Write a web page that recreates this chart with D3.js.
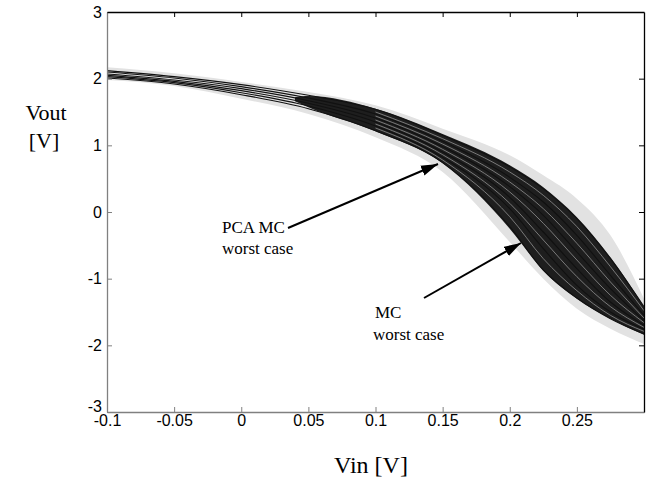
<!DOCTYPE html>
<html><head><meta charset="utf-8">
<script src="https://cdn.jsdelivr.net/npm/d3@7"></script>
<style>body{margin:0;background:#fff}</style>
</head><body><svg id="c" width="653" height="485"></svg>
<script>
// ---- data ----
const vin = [-0.1, -0.05, 0, 0.05, 0.1, 0.15, 0.2, 0.225, 0.25, 0.275, 0.3];
const envHi = [2.17, 2.08, 1.95, 1.80, 1.60, 1.25, 0.85, 0.55, 0.20, -0.35, -1.30];
const envLo = [1.98, 1.89, 1.70, 1.47, 1.12, 0.60, -0.45, -1.00, -1.45, -1.75, -1.98];
const vinBand = [0.04, 0.05, 0.1, 0.15, 0.2, 0.225, 0.25, 0.275, 0.3];
const bandHi = [1.72, 1.74, 1.55, 1.17, 0.70, 0.37, -0.08, -0.68, -1.42];
const bandLo = [1.66, 1.57, 1.21, 0.73, -0.25, -0.88, -1.30, -1.60, -1.84];
const blackLines = [
  [2.12, 2.03, 1.91, 1.75, 1.54, 1.15, 0.68, 0.35, -0.10, -0.70, -1.42],
  [2.10, 2.01, 1.88, 1.71, 1.47, 1.06, 0.52, 0.15, -0.35, -0.95, -1.55],
  [2.07, 1.98, 1.85, 1.67, 1.41, 0.98, 0.38, -0.05, -0.60, -1.15, -1.63],
  [2.05, 1.96, 1.82, 1.63, 1.35, 0.90, 0.22, -0.30, -0.85, -1.35, -1.70],
  [2.03, 1.94, 1.79, 1.59, 1.29, 0.82, 0.05, -0.55, -1.10, -1.50, -1.76],
  [2.01, 1.92, 1.76, 1.55, 1.22, 0.74, -0.22, -0.87, -1.29, -1.60, -1.83]
];
const vinGray = [0.1, 0.15, 0.2, 0.225, 0.25, 0.275, 0.3];
const grayLines = [
  [1.50, 1.10, 0.60, 0.25, -0.22, -0.82, -1.48],
  [1.44, 1.02, 0.45, 0.05, -0.47, -1.05, -1.59],
  [1.38, 0.94, 0.30, -0.17, -0.72, -1.25, -1.66],
  [1.32, 0.86, 0.13, -0.42, -0.97, -1.42, -1.73],
  [1.26, 0.78, -0.07, -0.70, -1.18, -1.55, -1.79]
];
const xTicks = [-0.1, -0.05, 0, 0.05, 0.1, 0.15, 0.2, 0.25];
const xTickLabels = ["-0.1", "-0.05", "0", "0.05", "0.1", "0.15", "0.2", "0.25"];
const yTicks = [-3, -2, -1, 0, 1, 2, 3];
const yTickLabels = ["-3", "-2", "-1", "0", "1", "2", "3"];

// ---- layout ----
const L = 107, R = 644, T = 12, B = 412;
const svg = d3.select("#c");
const x = d3.scaleLinear().domain([-0.1, 0.3]).range([L, R]);
const y = d3.scaleLinear().domain([-3, 3]).range([B, T]);

svg.append("defs").append("clipPath").attr("id", "clip")
  .append("rect").attr("x", L).attr("y", T).attr("width", R - L).attr("height", B - T);
svg.select("defs").append("marker").attr("id", "arr")
  .attr("viewBox", "0 0 16 10").attr("refX", 16).attr("refY", 5)
  .attr("markerUnits", "userSpaceOnUse").attr("markerWidth", 17).attr("markerHeight", 11)
  .attr("orient", "auto")
  .append("path").attr("d", "M0,0 L16,5 L0,10 Z").attr("fill", "#000");

const g = svg.append("g").attr("clip-path", "url(#clip)");
const crv = d3.curveMonotoneX;

const env = vin.map((v, i) => ({x: v, hi: envHi[i], lo: envLo[i]}));
g.append("path").datum(env)
  .attr("d", d3.area().x(d => x(d.x)).y0(d => y(d.lo)).y1(d => y(d.hi)).curve(crv))
  .attr("fill", "#e2e2e2");

const band = vinBand.map((v, i) => ({x: v, hi: bandHi[i], lo: bandLo[i]}));
g.append("path").datum(band)
  .attr("d", d3.area().x(d => x(d.x)).y0(d => y(d.lo)).y1(d => y(d.hi)).curve(crv))
  .attr("fill", "#1e1e1e");

const line = d3.line().x(d => x(d[0])).y(d => y(d[1])).curve(crv);
blackLines.forEach(arr => {
  g.append("path").datum(vin.map((v, i) => [v, arr[i]]))
    .attr("d", line).attr("fill", "none").attr("stroke", "#111").attr("stroke-width", 1.1);
});
grayLines.forEach(arr => {
  g.append("path").datum(vinGray.map((v, i) => [v, arr[i]]))
    .attr("d", line).attr("fill", "none").attr("stroke", "#a0a0a0").attr("stroke-width", 0.7);
});

// ---- axes ----
const tickFont = "'Liberation Sans', Arial, sans-serif";
function style(sel, col) {
  sel.select(".domain").attr("stroke", col).attr("stroke-width", 1.3);
  sel.selectAll(".tick line").attr("stroke", col);
  sel.selectAll(".tick text").attr("fill", "#000").style("font-family", tickFont).style("font-size", "16px");
}
const gl = svg.append("g").attr("transform", `translate(${L},0)`)
  .call(d3.axisLeft(y).tickValues(yTicks).tickFormat((d, i) => yTickLabels[i]).tickSizeInner(-5).tickSizeOuter(0).tickPadding(5));
style(gl, "#808080");
gl.selectAll(".tick text").filter(d => d === -3).attr("dy", "-0.05em");
const gb = svg.append("g").attr("transform", `translate(0,${B})`)
  .call(d3.axisBottom(x).tickValues(xTicks).tickFormat((d, i) => xTickLabels[i]).tickSizeInner(-5).tickSizeOuter(0).tickPadding(3));
style(gb, "#808080");
const gt = svg.append("g").attr("transform", `translate(0,${T})`)
  .call(d3.axisTop(x).tickValues(xTicks.slice(1)).tickFormat("").tickSizeInner(-5).tickSizeOuter(0));
style(gt, "#000");
const gr = svg.append("g").attr("transform", `translate(${R},0)`)
  .call(d3.axisRight(y).tickValues(yTicks.slice(1, -1)).tickFormat("").tickSizeInner(-5).tickSizeOuter(0));
style(gr, "#000");

// ---- labels ----
const serif = "'Liberation Serif', 'Times New Roman', serif";
svg.append("text").attr("x", 46).attr("y", 120).attr("text-anchor", "middle")
  .style("font-family", serif).style("font-size", "22px").text("Vout");
svg.append("text").attr("x", 44).attr("y", 148).attr("text-anchor", "middle")
  .style("font-family", serif).style("font-size", "22px").text("[V]");
svg.append("text").attr("x", 371).attr("y", 473).attr("text-anchor", "middle")
  .style("font-family", serif).style("font-size", "24px").text("Vin [V]");

const ann = (t, xx, yy) => svg.append("text").attr("x", xx).attr("y", yy)
  .style("font-family", serif).style("font-size", "17px").text(t);
ann("PCA MC", 222, 233);
ann("worst case", 222, 254);
ann("MC", 375, 318);
ann("worst case", 373, 340);

svg.append("line").attr("x1", 288).attr("y1", 228).attr("x2", 438).attr("y2", 164)
  .attr("stroke", "#000").attr("stroke-width", 2).attr("marker-end", "url(#arr)");
svg.append("line").attr("x1", 424).attr("y1", 298).attr("x2", 521).attr("y2", 243)
  .attr("stroke", "#000").attr("stroke-width", 2).attr("marker-end", "url(#arr)");
</script></body></html>
